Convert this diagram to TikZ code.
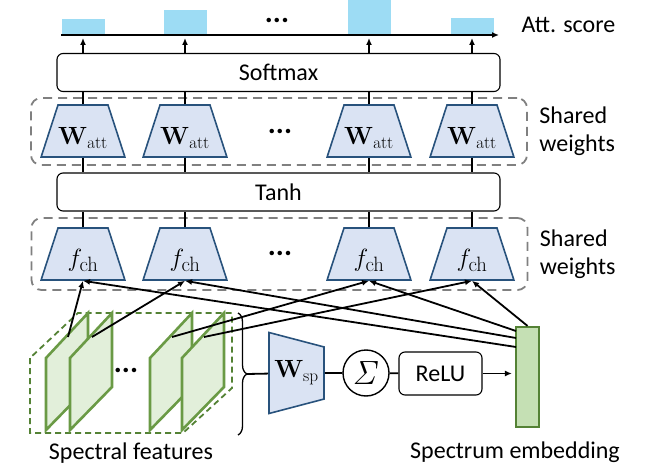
\documentclass[tikz,border=0pt]{standalone}
\usepackage[no-math]{fontspec}
\setmainfont{Carlito}
\usetikzlibrary{shapes.geometric,decorations.pathreplacing,arrows.meta}

\definecolor{trapfill}{HTML}{DAE3F3}
\definecolor{trapline}{HTML}{28527C}
\definecolor{barblue}{HTML}{9DDCF4}
\definecolor{panelfill}{HTML}{E2EFDA}
\definecolor{panelline}{HTML}{6A9A45}
\definecolor{darkgreen}{HTML}{548235}
\definecolor{embfill}{HTML}{C5E0B4}
\definecolor{dashgray}{HTML}{808080}

\tikzstyle{lbl}=[font=\fontsize{24}{28}\selectfont]
\tikzstyle{dots}=[font=\fontsize{30}{30}\selectfont\bfseries]
\tikzstyle{wide box}=[draw, rounded corners=6pt, line width=1.1pt, minimum width=443pt, minimum height=38pt, lbl]
\tikzstyle{trap}=[trapezium, trapezium angle=72, draw=trapline, fill=trapfill, line width=1.6pt, inner xsep=25pt, inner ysep=26pt, font=\fontsize{23}{26}\selectfont]
\tikzstyle{shared}=[draw=dashgray, line width=1.8pt, dash pattern=on 9pt off 6pt, rounded corners=10pt, minimum width=496pt]
\tikzstyle{panel}=[draw=panelline, fill=panelfill, line width=2.6pt]
\tikzstyle{link}=[line width=1.8pt]

\begin{document}
\begin{tikzpicture}[x=1pt, y=-1pt, >={Latex[length=7pt,width=6pt]}]
    \useasboundingbox (0,0) rectangle (648,468);

    % attention scores
    \foreach \x/\h in {83/16,185/25,369/35,472/17}
      \fill[barblue] (\x-21.5,35) rectangle (\x+21.5,35-\h);
    \coordinate (ax0) at (61,35);
    \coordinate (ax1) at (499,35);
    \draw[->, link] (ax0) -- (ax1);
    \node[lbl, anchor=west] (att) at ([xshift=19pt, yshift=10pt]ax1) {Att. score};
    \node[dots] (dots0) at (277,20) {...};

    \node[wide box] (sm) at (278.5,72.5) {Softmax};
    \node[shared, minimum height=67pt] (sw1) at (279,131.5) {};
    \node[wide box] (tanh) at (278.5,192) {Tanh};
    \node[shared, minimum height=72pt] (sw2) at (279.5,254) {};
    \node[lbl, anchor=west, align=left] (sl1) at ([xshift=8pt]sw1.east) {Shared\\weights};
    \node[lbl, anchor=west, align=left] (sl2) at ([xshift=8pt]sw2.east) {Shared\\weights};

    \foreach \x/\n in {83/1,185/2,369/3,472/4}{
      \node[trap] (w\n) at (\x,131) {\makebox[0pt]{\raisebox{-14pt}[0pt][0pt]{$\mathbf{W}_{\mathrm{att}}$}}};
      \node[trap, font=\fontsize{24.88}{28}\selectfont] (f\n) at (\x,254) {\makebox[0pt]{\raisebox{-12pt}[0pt][0pt]{$f_{\mathrm{ch}}$}}};
      \draw[link] (w\n.north) -- (w\n.north |- sm.south);
      \draw[link] (w\n.south) -- (w\n.south |- tanh.north);
      \draw[link] (f\n.north) -- (f\n.north |- tanh.south);
      \draw[->, link] (w\n.north |- sm.north) -- ([yshift=-3pt]w\n.north |- ax0);
    }
    \node[dots] (dots1) at (280,131) {...};
    \node[dots] (dots2) at (280,253) {...};

    % spectral features
    \draw[darkgreen, line width=1.8pt, dash pattern=on 6pt off 4pt] (30,358) -- (30,433) -- (183,433) -- (232,388) -- (232,313) -- (78,313) -- cycle;
    \foreach \L/\n in {46/1,70/2,150/3,182/4}{
      \draw[panel] (\L,430) -- (\L,358) -- (\L+42,313) -- (\L+42,387) -- cycle;
      \coordinate (p\n) at (\L+22,337);
    }
    \node[dots] (dots3) at (126,370) {...};
    \draw[decorate, decoration={brace, amplitude=9pt}, line width=1.3pt] (238,313) -- (238,435);
    \coordinate (brtip) at (247,374);

    \node[trapezium, trapezium angle=72, trapezium stretches body, draw=trapline, fill=trapfill, line width=1.6pt, inner sep=0pt, font=\fontsize{23}{26}\selectfont, shape border rotate=270, minimum width=81pt, minimum height=55pt] (wsp) at (296.5,373) {$\mathbf{W}_{\mathrm{sp}}$};
    \node[circle, draw, line width=1.4pt, minimum size=46pt, inner sep=0pt] (sig) at (366,373) {\scalebox{1.35}{\fontsize{24}{24}\selectfont$\mathit{\Sigma}$}};
    \node[draw, rounded corners=6pt, line width=1.1pt, minimum width=83pt, minimum height=43pt, lbl] (relu) at (440.5,373.5) {ReLU};
    \node[draw=darkgreen, fill=embfill, line width=2.2pt, minimum width=23pt, minimum height=100pt, inner sep=0pt] (emb) at (527.5,377) {};

    \draw[link] (brtip) -- (wsp);
    \draw[link] (wsp) -- (sig);
    \draw[link] (sig) -- (relu);
    \draw[->, link, shorten >=3pt] (relu.east) -- (relu.east -| emb.west);

    \coordinate (e1) at (516,347);
    \coordinate (e2) at (516,338);
    \coordinate (e3) at (516,331);
    \draw[->, link] (p1) -- (f1.south);
    \draw[->, link] (p2) -- (f2.south);
    \draw[->, link] (p3) -- (f3.south);
    \draw[->, link] (p4) -- (f4.south);
    \draw[->, link] (e1) -- (f1.south);
    \draw[->, link] (e2) -- (f2.south);
    \draw[->, link] (e3) -- (f3.south);
    \draw[->, link] (emb.north) -- (f4.south);

    \node[lbl] (spl) at (131,453) {Spectral features};
    \node[lbl] (embl) at (515,452) {Spectrum embedding};
\end{tikzpicture}
\end{document}
